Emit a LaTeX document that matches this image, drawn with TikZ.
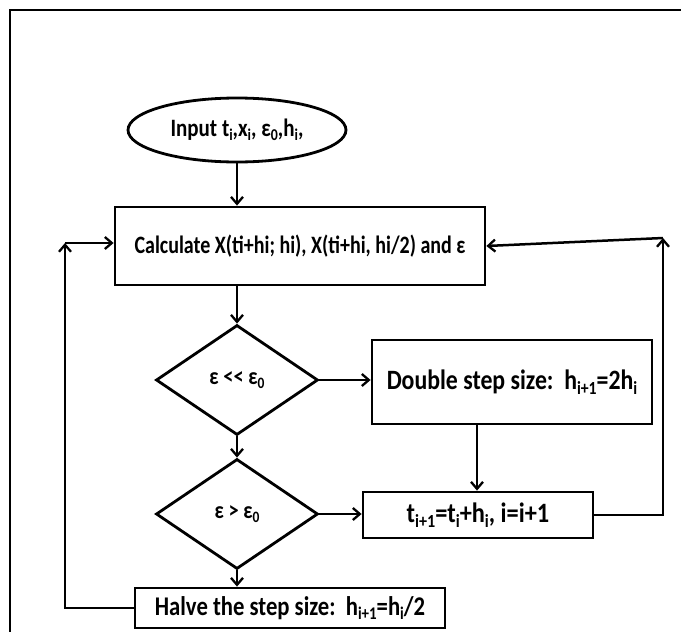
\documentclass[tikz,border=0pt]{standalone}
\usepackage{fontspec}
\setmainfont{Carlito}
\usetikzlibrary{shapes.geometric,arrows.meta}
\newcommand{\ssb}[1]{\raisebox{-0.36ex}{\scalebox{0.66}{#1}}}
\newcommand{\sx}[2]{\scalebox{#1}[1]{#2}}
\tikzset{
  shp/.style={draw, line width=2.8pt, inner sep=0pt, font=\fontsize{25}{25}\selectfont\bfseries},
  boxx/.style={shp, rectangle},
  dia/.style={shp, diamond, minimum width=162pt, minimum height=110pt},
  arr/.style={line width=2.5pt, -{Straight Barb[length=7pt,width=12pt,line width=2.3pt]}},
}
\begin{document}
\begin{tikzpicture}[x=1pt,y=-1pt]
\useasboundingbox (0,0) rectangle (681,632);
\draw[line width=2pt] (10,632) -- (10,10) -- (681,10);
\node[shp, ellipse, minimum width=218pt, minimum height=64pt] (inp) at (237,130) {\sx{0.84}{Input t\ssb{i},x\ssb{i}, ε\ssb{0},h\ssb{i},}};
\node[boxx, minimum width=370pt, minimum height=78pt] (calc) at (300,246) {\sx{0.80}{Calculate X(ti+hi; hi), X(ti+hi, hi/2) and ε}};
\node[dia, font=\fontsize{24}{24}\selectfont\bfseries] (d1) at (237,380) {\sx{0.85}{ε <\kern0pt< ε\ssb{0}}};
\node[boxx, minimum width=280pt, minimum height=84pt, font=\fontsize{28}{28}\selectfont\bfseries] (dbl) at (512,382) {\sx{0.85}{Double step size:\ \ h\ssb{i+1}=2h\ssb{i}}};
\node[dia, font=\fontsize{24}{24}\selectfont\bfseries] (d2) at (237,514) {\sx{0.85}{ε > ε\ssb{0}}};
\node[boxx, minimum width=230pt, minimum height=46pt, font=\fontsize{28}{28}\selectfont\bfseries] (tb) at (478,515) {\sx{0.87}{t\ssb{i+1}=t\ssb{i}+h\ssb{i}, i=i+1}};
\node[boxx, minimum width=310pt, minimum height=40pt, font=\fontsize{27}{27}\selectfont\bfseries] (hv) at (290,608) {\sx{0.84}{Halve the step size:\ \ h\ssb{i+1}=h\ssb{i}/2}};
\coordinate (ltop) at (65,243);
\coordinate (rtop) at (663,238);
\draw[arr] (inp.south) -- (inp.south |- calc.north);
\draw[arr] (calc.south -| d1.north) -- (d1.north);
\draw[arr] (d1.east) -- (dbl.west |- d1.east);
\draw[arr] (d1.south) -- (d2.north);
\draw[arr] (d2.east) -- (tb.west |- d2.east);
\draw[arr] (dbl.south -| 477,0) -- (tb.north -| 477,0);
\draw[arr] (d2.south) -- (d2.south |- hv.north);
\draw[arr] (tb.east) -| (rtop);
\draw[arr] (rtop) -- (calc.east);
\draw[arr] (hv.west) -| (ltop);
\draw[arr] (ltop) -- (calc.west |- ltop);
\end{tikzpicture}
\end{document}
